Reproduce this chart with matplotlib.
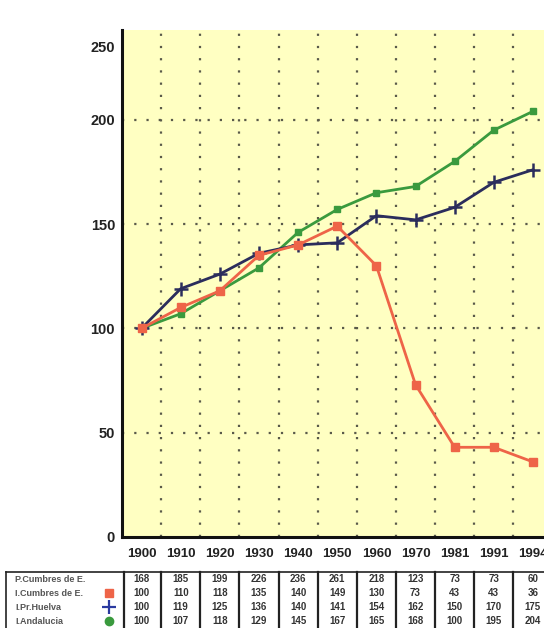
import numpy as np
import matplotlib
matplotlib.use('Agg')
import matplotlib.pyplot as plt
from matplotlib.transforms import blended_transform_factory

plt.rcParams['font.family'] = ['Liberation Sans', 'DejaVu Sans']

# data
years = ['1900', '1910', '1920', '1930', '1940', '1950', '1960', '1970', '1981', '1991', '1994']
cumbres_idx = [100, 110, 118, 135, 140, 149, 130, 73, 43, 43, 36]
huelva_idx = [100, 119, 126, 136, 140, 141, 154, 152, 158, 170, 176]
andalucia_idx = [100, 107, 118, 129, 146, 157, 165, 168, 180, 195, 204]

# table as printed under the chart
row_labels = ['P.Cumbres de E.', 'I.Cumbres de E.', 'I.Pr.Huelva', 'I.Andalucia']
tab_pob = ['168', '185', '199', '226', '236', '261', '218', '123', '73', '73', '60']
tab_cumbres = ['100', '110', '118', '135', '140', '149', '130', '73', '43', '43', '36']
tab_huelva = ['100', '119', '125', '136', '140', '141', '154', '162', '150', '170', '175']
tab_andalucia = ['100', '107', '118', '129', '145', '167', '165', '168', '100', '195', '204']

yticks = [0, 50, 100, 150, 200, 235]
ytick_labels = ['0', '50', '100', '150', '200', '250']

red = '#EE6448'
blue = '#2B2D5C'
green = '#3A9A3E'

W, H = 544, 628
fig = plt.figure(figsize=(W / 100, H / 100), dpi=100)
# axes runs past the right edge, as in the cropped scan
ax = fig.add_axes([122 / W, (H - 537) / H, (552.5 - 122) / W, (537 - 30) / H])
ax.set_facecolor('#FFFFC2')

x = np.arange(len(years))
ax.set_xlim(-0.5, len(years) - 0.5)
ax.set_ylim(0, 243)

# dotted grid
for xv in x[:-1] + 0.5:
    ax.axvline(xv, color='#5a5a4a', lw=1.6, ls=(0, (1, 4.5)), zorder=1)
for yv in [50, 100, 150, 200]:
    ax.axhline(yv, color='#5a5a4a', lw=1.6, ls=(0, (1, 4.5)), zorder=1)

ax.plot(x, andalucia_idx, color=green, lw=2, marker='s', ms=5, zorder=3)
ax.plot(x, huelva_idx, color=blue, lw=2, marker='+', ms=10, mew=1.8, zorder=4)
ax.plot(x, cumbres_idx, color=red, lw=2, marker='s', ms=6, zorder=5)

for s in ['top', 'right']:
    ax.spines[s].set_visible(False)
for s in ['left', 'bottom']:
    ax.spines[s].set_linewidth(2.2)
    ax.spines[s].set_color('#111111')

ax.set_xticks(x)
ax.set_xticklabels(years, fontsize=9.5, fontweight='bold', color='#222222')
ax.set_yticks(yticks)
ax.set_yticklabels(ytick_labels, fontsize=10.5, fontweight='bold', color='#222222')
ax.tick_params(length=0, pad=5)
ax.tick_params(axis='x', pad=8)

# table below
tr = blended_transform_factory(ax.transData, fig.transFigure)
def fy(py):
    return 1 - py / H

tab_left = (8 - 143) / 39.0
lab_right = -0.45
top_y = 572
row_y = [579, 593, 607, 621]

ax.plot([tab_left, len(years) - 0.5], [fy(top_y)] * 2, transform=tr, color='#222222',
        lw=1.2, clip_on=False)
ax.plot([tab_left, tab_left], [fy(top_y), 0], transform=tr, color='#222222', lw=1.2, clip_on=False)
for xv in [lab_right] + list(x[:-1] + 0.5):
    ax.plot([xv, xv], [fy(top_y), 0], transform=tr, color='#222222', lw=1.6, clip_on=False)

rows = [tab_pob, tab_cumbres, tab_huelva, tab_andalucia]
for r, (lab, vals) in enumerate(zip(row_labels, rows)):
    ax.text(tab_left + 0.24, fy(row_y[r]), lab, transform=tr, fontsize=6.5, fontweight='bold',
            color='#555555', ha='left', va='center')
    for i, v in enumerate(vals):
        ax.text(x[i], fy(row_y[r]), v, transform=tr, fontsize=7, fontweight='bold',
                color='#333333', ha='center', va='center')

mk_x = (111 - 143) / 39.0
ax.plot([mk_x], [fy(row_y[1])], transform=tr, marker='s', color=red, ms=6, clip_on=False)
ax.plot([mk_x], [fy(row_y[2])], transform=tr, marker='+', color='#2b3aa0', ms=10, mew=1.6,
        clip_on=False)
ax.plot([mk_x], [fy(row_y[3])], transform=tr, marker='o', color=green, ms=6, clip_on=False)

fig.savefig('out.png', dpi=100)
